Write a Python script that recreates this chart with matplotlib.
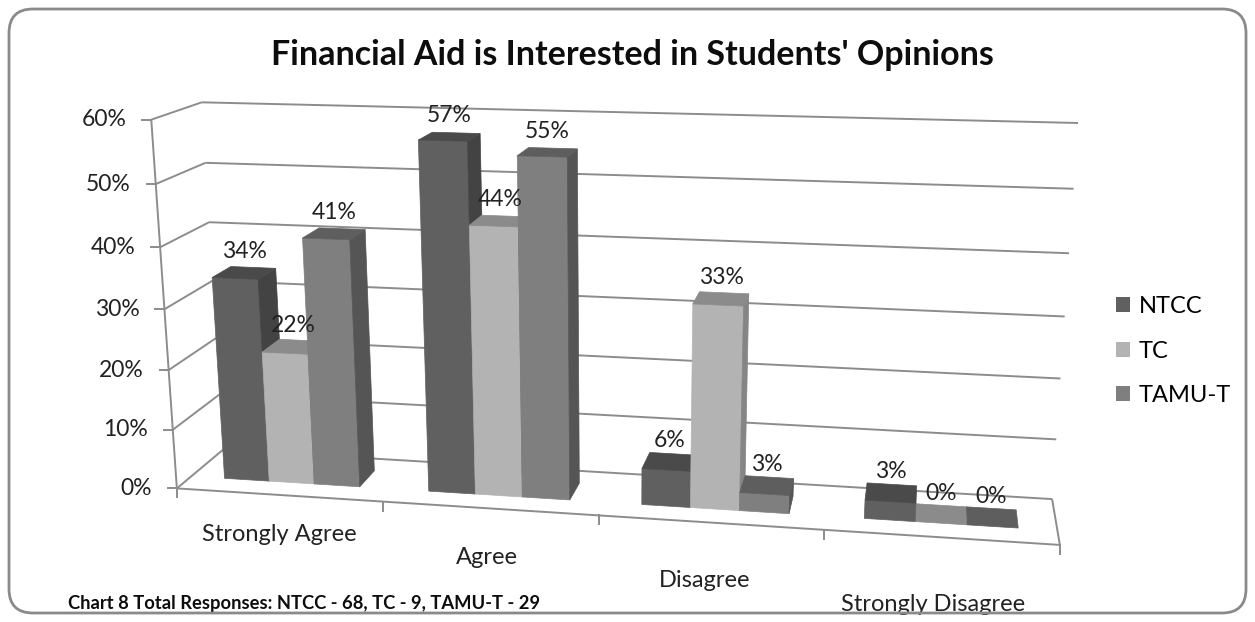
import numpy as np
import matplotlib.pyplot as plt
from matplotlib.patches import Polygon, FancyBboxPatch, Patch

plt.rcParams['font.family'] = ['Lato', 'DejaVu Sans']

categories = ['Strongly Agree', 'Agree', 'Disagree', 'Strongly Disagree']
series = ['NTCC', 'TC', 'TAMU-T']
ntcc = [0.34, 0.57, 0.06, 0.03]
tc = [0.22, 0.44, 0.33, 0.00]
tamu = [0.41, 0.55, 0.03, 0.00]
values = [ntcc, tc, tamu]
yticks = [0.0, 0.1, 0.2, 0.3, 0.4, 0.5, 0.6]

# front, top, side shade for each series
shades = [('#606060', '#4a4a4a', '#434343'),
          ('#b3b3b3', '#8b8b8b', '#858585'),
          ('#7f7f7f', '#5e5e5e', '#555555')]
grid_col = '#8c8c8c'

W, H = 1255, 622
fig = plt.figure(figsize=(W / 100, H / 100), dpi=100)
ax = fig.add_axes([0, 0, 1, 1])
ax.set_xlim(0, W)
ax.set_ylim(H, 0)
ax.axis('off')

# perspective of the 3d box: corners (category, value, depth) -> canvas px
scale = np.array([4.0, 0.6, 1.0])
box_world = np.array([[0, 0, 0], [0, .6, 0], [0, .6, 1], [0, 0, 1],
                      [4, .6, 1], [4, 0, 1], [4, 0, 0]], dtype=float)
box_px = np.array([[177, 488], [151, 120], [202, 102], [223, 450],
                   [1078, 123], [1052, 499], [1060, 545]], dtype=float)

rows = []
for (X, Y, Z), (u, v) in zip(box_world / scale, box_px / 1000):
    rows.append([X, Y, Z, 1, 0, 0, 0, 0, -u * X, -u * Y, -u * Z, -u])
    rows.append([0, 0, 0, 0, X, Y, Z, 1, -v * X, -v * Y, -v * Z, -v])
_, _, vt = np.linalg.svd(np.array(rows))
P = vt[-1].reshape(3, 4)
_, _, vt2 = np.linalg.svd(P)
cam = vt2[-1][:3] / vt2[-1][3] * scale


def proj(x, v, d):
    x, v, d = np.broadcast_arrays(np.asarray(x, float), np.asarray(v, float),
                                  np.asarray(d, float))
    h = P @ np.stack([x / 4, v / 0.6, d, np.ones_like(x)])
    return 1000 * h[0] / h[2], 1000 * h[1] / h[2]


def line3(xs, vs, ds, **kw):
    u, v = proj(xs, vs, ds)
    ax.plot(u, v, color=grid_col, lw=1.4, solid_capstyle='butt', **kw)


# walls: back and side gridlines
for t in yticks:
    line3([0, 4], [t, t], [1, 1], zorder=1)
    line3([0, 0], [t, t], [0, 1], zorder=1)
    u, v = proj(0, t, 0)
    ax.plot([u - 9, u], [v, v], color=grid_col, lw=1.4, zorder=1)
    ax.text(u - 25, v, f'{t:.0%}', ha='right', va='center', fontsize=16.5,
            color='#222222')
# floor outline and axes
line3([4, 4], [0, 0], [0, 1], zorder=1)
line3([0, 4], [0, 0], [0, 0], zorder=1)
line3([0, 0], [0, 0.6], [0, 0], zorder=1)
for k in range(len(categories) + 1):
    u, v = proj(k, 0, 0)
    ax.plot([u, u], [v, v + 9], color=grid_col, lw=1.4, zorder=1)

# bars
bw = 1 / 4.5
gap = 1.5 * bw
d0, d1 = 0.3, 0.7
bars = []
for j, vals in enumerate(values):
    for i, val in enumerate(vals):
        x0 = i + gap / 2 + j * bw
        bars.append((x0, x0 + bw, val, j))
# paint the bars farthest from the camera first
bars.sort(key=lambda b: -abs((b[0] + b[1]) / 2 - cam[0]))

for z, (x0, x1, val, j) in enumerate(bars):
    front, top, side = shades[j]
    faces = []
    if val > 0:
        faces.append(([x0, x1, x1, x0], [0, 0, val, val], [d0] * 4, front))
        if cam[0] > x1:
            faces.append(([x1] * 4, [0, 0, val, val], [d0, d1, d1, d0], side))
        if cam[0] < x0:
            faces.append(([x0] * 4, [0, 0, val, val], [d0, d1, d1, d0], side))
    faces.append(([x0, x1, x1, x0], [val] * 4, [d0, d0, d1, d1], top))
    for xs, vs, ds, col in faces:
        u, v = proj(xs, vs, ds)
        ax.add_patch(Polygon(np.column_stack([u, v]), closed=True, fc=col,
                             ec=col, lw=0.5, zorder=10 + z))
    u, v = proj((x0 + x1) / 2, val, (d0 + d1) / 2)
    ax.text(u, v - 21, f'{val:.0%}', ha='center', va='center', fontsize=16.5,
            color='#222222', zorder=100)

# category labels under the front edge
for i, name in enumerate(categories):
    u, v = proj(i + 0.5, 0, 0)
    ax.text(u - 0.012 * (u - 281), v + 40 + 0.042 * (u - 281), name,
            ha='center', va='center', fontsize=17, color='#222222')

ax.text(632, 55, "Financial Aid is Interested in Students' Opinions",
        ha='center', va='center', fontsize=24.5, fontweight='bold',
        color='#0d0d0d')
ax.text(68, 604, 'Chart 8 Total Responses: NTCC - 68, TC - 9, TAMU-T - 29',
        ha='left', va='center', fontsize=13.2, fontweight='bold',
        color='#0d0d0d')

handles = [Patch(fc=s[0], ec='none') for s in shades]
ax.legend(handles, series, loc='center left',
          bbox_to_anchor=(1116 / W, 1 - 351 / H), frameon=False,
          fontsize=17, handlelength=0.6, handleheight=0.6,
          handletextpad=0.35, labelspacing=1.0, borderpad=0,
          borderaxespad=0)

ax.add_patch(FancyBboxPatch((9, 9), W - 18, H - 18,
                            boxstyle='round,pad=0,rounding_size=24',
                            fc='none', ec='#8a8a8a', lw=2, zorder=200))

fig.savefig('out.png', dpi=100)
